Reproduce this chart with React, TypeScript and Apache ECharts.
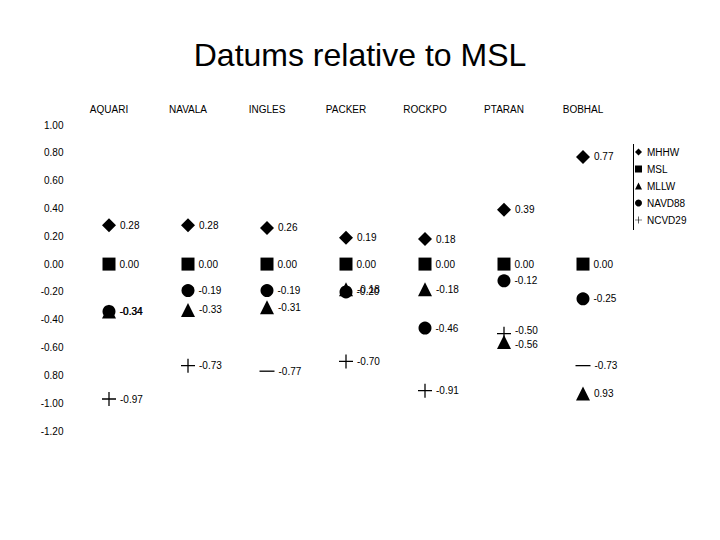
import React, { useEffect, useRef } from "react";
import * as echarts from "echarts";

const stations = ["AQUARI", "NAVALA", "INGLES", "PACKER", "ROCKPO", "PTARAN", "BOBHAL"];
const yTickLabels = ["1.00", "0.80", "0.60", "0.40", "0.20", "0.00", "-0.20", "-0.40", "-0.60", "0.80", "-1.00", "-1.20"];

const mhhw = [0.28, 0.28, 0.26, 0.19, 0.18, 0.39, 0.77];
const mhhwLabels = ["0.28", "0.28", "0.26", "0.19", "0.18", "0.39", "0.77"];
const msl = [0.0, 0.0, 0.0, 0.0, 0.0, 0.0, 0.0];
const mslLabels = ["0.00", "0.00", "0.00", "0.00", "0.00", "0.00", "0.00"];
const mllw = [-0.34, -0.33, -0.31, -0.18, -0.18, -0.56, -0.93];
const mllwLabels = ["-0.34", "-0.33", "-0.31", "-0.18", "-0.18", "-0.56", "0.93"];
const navd88 = [-0.34, -0.19, -0.19, -0.2, -0.46, -0.12, -0.25];
const navd88Labels = ["-0.34", "-0.19", "-0.19", "-0.20", "-0.46", "-0.12", "-0.25"];
const ncvd29 = [-0.97, -0.73, -0.77, -0.7, -0.91, -0.5, -0.73];
const ncvd29Labels = ["-0.97", "-0.73", "-0.77", "-0.70", "-0.91", "-0.50", "-0.73"];
const ncvd29Dash = [false, false, true, false, false, false, true];

const FONT = "'Liberation Sans', Arial, sans-serif";
const PLUS = "path://M0,5H11V6H0Z M5,0H6V11H5Z";
const DASH = "path://M0,0H10V1H0Z";

export default function App() {
  const ref = useRef<HTMLDivElement>(null);
  useEffect(() => {
    if (!ref.current) return;
    const chart = echarts.init(ref.current, null, { renderer: "svg" });
    const mkLabel = (labels: string[]) => ({
      show: true,
      position: "right" as const,
      distance: 4,
      color: "#000",
      fontSize: 10,
      fontFamily: FONT,
      formatter: (p: any) => labels[p.dataIndex],
    });
    const series: any[] = [
      {
        name: "MHHW",
        type: "scatter",
        symbol: "diamond",
        symbolSize: 14,
        data: mhhw,
        label: mkLabel(mhhwLabels),
      },
      {
        name: "MSL",
        type: "scatter",
        symbol: "rect",
        symbolSize: 13,
        data: msl,
        label: mkLabel(mslLabels),
      },
      {
        name: "MLLW",
        type: "scatter",
        symbol: "triangle",
        symbolSize: 14,
        data: mllw.map((v, i) =>
          i === 5 ? { value: v, label: { offset: [0, 3] } } : { value: v }
        ),
        label: mkLabel(mllwLabels),
      },
      {
        name: "NAVD88",
        type: "scatter",
        symbol: "circle",
        symbolSize: 13,
        data: navd88,
        label: mkLabel(navd88Labels),
      },
      {
        name: "NCVD29",
        type: "scatter",
        symbol: PLUS,
        symbolSize: 14,
        data: ncvd29.map((v, i) =>
          ncvd29Dash[i]
            ? { value: v, symbol: DASH, symbolSize: [15, 1.3] }
            : i === 5
            ? { value: v, label: { offset: [0, -3] } }
            : { value: v }
        ),
        label: mkLabel(ncvd29Labels),
      },
    ].map((s) => ({
      ...s,
      itemStyle: { color: "#000", opacity: 1 },
      emphasis: { disabled: true },
    }));

    chart.setOption({
      animation: false,
      backgroundColor: "#fff",
      textStyle: { fontFamily: FONT },
      title: {
        text: "Datums relative to MSL",
        left: "center",
        top: 34,
        textStyle: { fontSize: 32, fontWeight: "normal", color: "#000", fontFamily: FONT },
      },
      legend: {
        orient: "vertical",
        left: 635,
        top: 146,
        padding: 0,
        itemWidth: 7,
        itemHeight: 7,
        itemGap: 5,
        textStyle: { fontSize: 10, lineHeight: 12, color: "#000", fontFamily: FONT },
        itemStyle: { opacity: 1 },
        data: [
          { name: "MHHW", icon: "diamond" },
          { name: "MSL", icon: "rect" },
          { name: "MLLW", icon: "triangle" },
          { name: "NAVD88", icon: "circle" },
          { name: "NCVD29", icon: PLUS },
        ],
        selectedMode: false,
      },
      graphic: [
        {
          type: "line",
          shape: { x1: 633.5, y1: 144, x2: 633.5, y2: 230 },
          style: { stroke: "#000", lineWidth: 1 },
        },
      ],
      grid: { left: 69.5, right: 720 - 622.5, top: 125, bottom: 109 },
      xAxis: {
        type: "category",
        position: "top",
        data: stations,
        axisLine: { show: false },
        axisTick: { show: false },
        splitLine: { show: false },
        axisLabel: { margin: 11, fontSize: 10, color: "#000", fontFamily: FONT },
      },
      yAxis: {
        type: "value",
        min: -1.2,
        max: 1.0,
        interval: 0.2,
        axisLine: { show: false },
        axisTick: { show: false },
        splitLine: { show: false },
        axisLabel: {
          margin: 6,
          fontSize: 10,
          color: "#000",
          fontFamily: FONT,
          formatter: (v: number) => yTickLabels[Math.round((1 - v) / 0.2)] ?? "",
        },
      },
      series,
    });
    return () => chart.dispose();
  }, []);
  return (
    <div
      ref={ref}
      style={{ position: "fixed", left: 0, top: 0, width: 720, height: 540, background: "#fff" }}
    />
  );
}
